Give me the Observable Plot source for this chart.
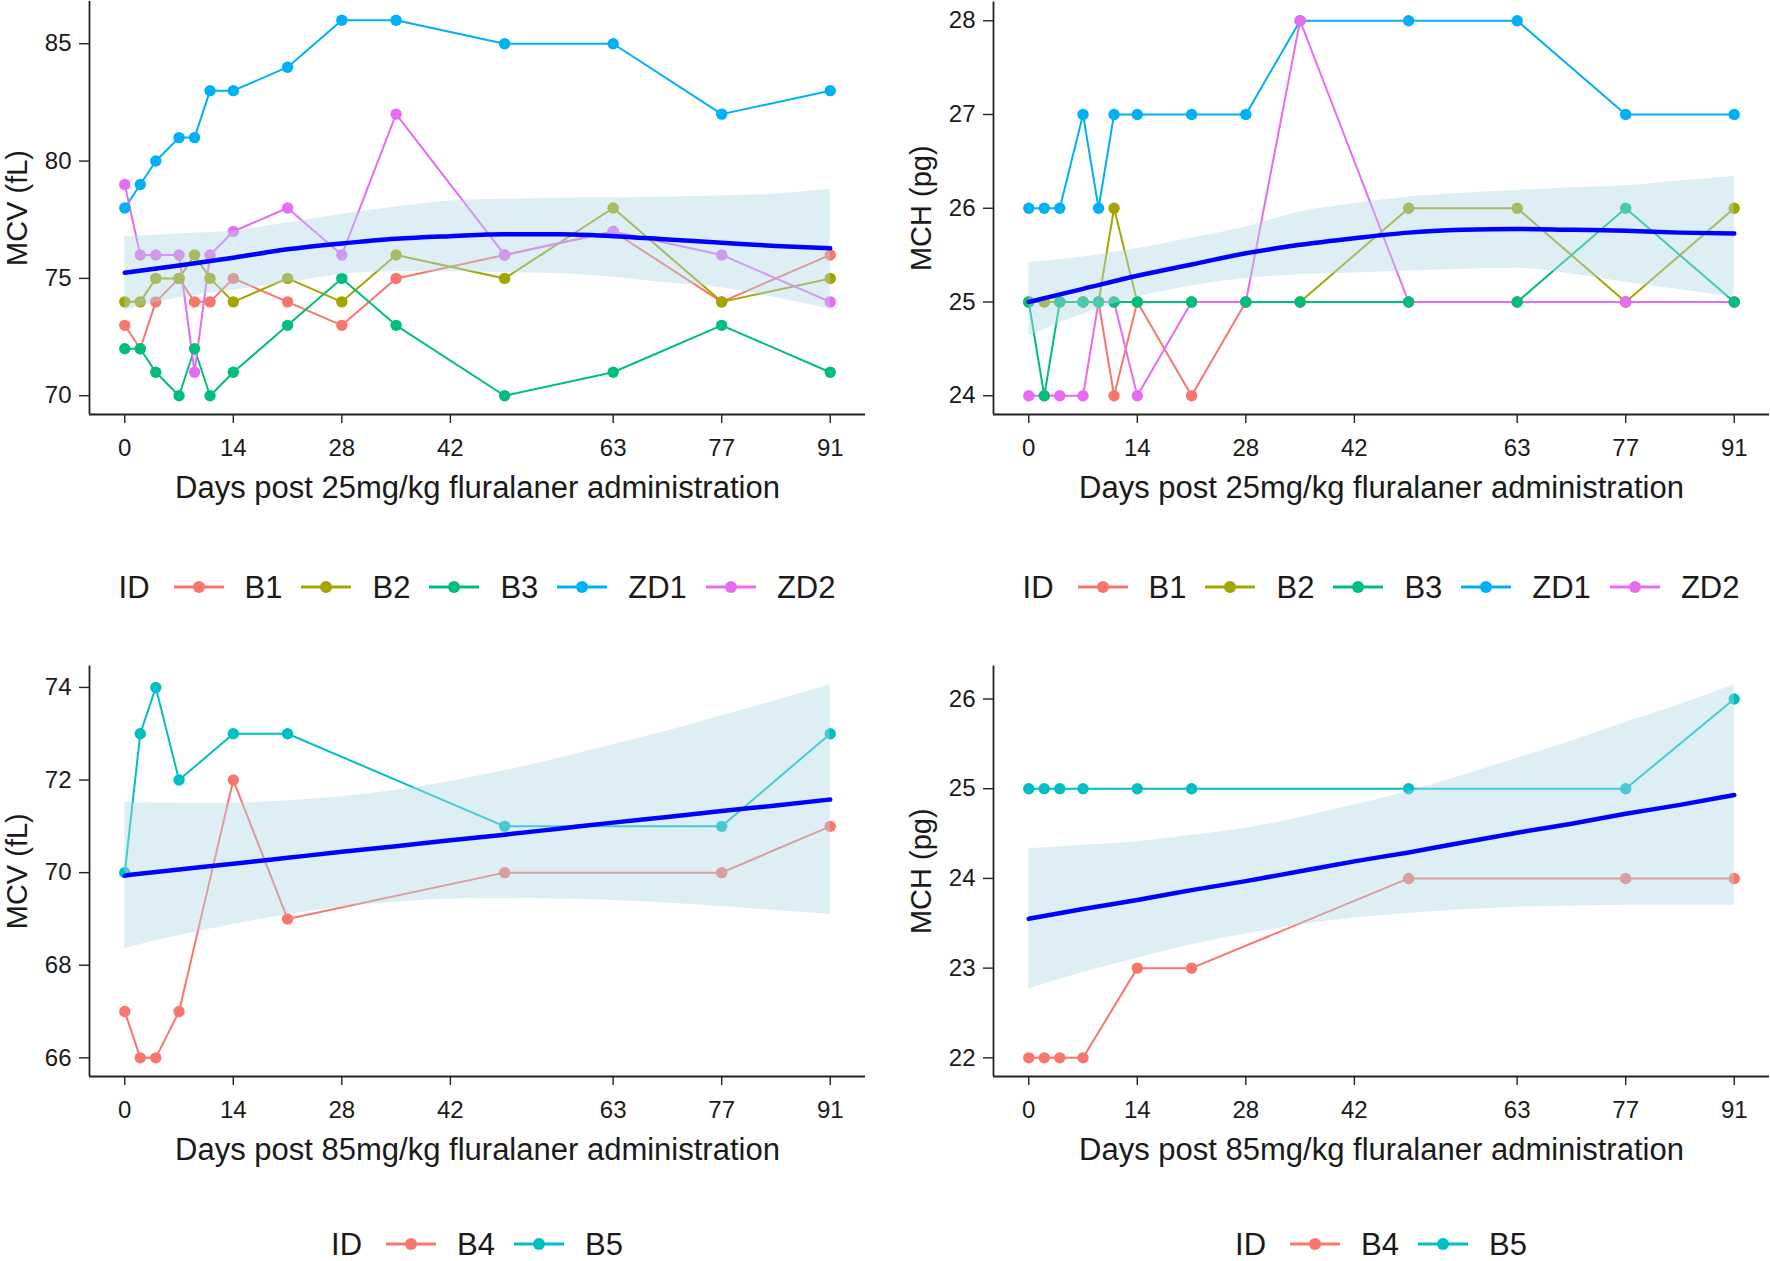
<!DOCTYPE html>
<html><head><meta charset="utf-8">
<script src="https://cdn.jsdelivr.net/npm/d3@7"></script>
<script src="https://cdn.jsdelivr.net/npm/@observablehq/plot@0.6"></script>
<style>
body{margin:0;background:#fff;}
#root{position:relative;width:1770px;height:1261px;overflow:hidden;font-family:"Liberation Sans",Arial,sans-serif;background:#fff;}
.panel{position:absolute;}
.legend{position:absolute;display:flex;align-items:center;justify-content:center;font-size:31px;line-height:1;color:#1a1a1a;white-space:nowrap;height:32px;}
.legend .ttl{margin-right:24px;}
.legend .lab{margin-left:21px;margin-right:19px;}
.legend .lab:last-child{margin-right:0;}
</style></head><body><div id="root"></div>
<script>
// ---------- data: 25 mg/kg group ----------
const days25 = [0, 2, 4, 7, 9, 11, 14, 21, 28, 35, 49, 63, 77, 91];
const ids25 = ["B1", "B2", "B3", "ZD1", "ZD2"];
const colors25 = ["#F8766D", "#A3A500", "#00BF7D", "#00B0F6", "#E76BF3"];
const dotOrder25 = ["B1", "B2", "ZD1", "ZD2", "B3"];

const mcv25_B1  = [73, 72, 74, 75, 74, 74, 75, 74, 73, 75, 76, 77, 74, 76];
const mcv25_B2  = [74, 74, 75, 75, 76, 75, 74, 75, 74, 76, 75, 78, 74, 75];
const mcv25_B3  = [72, 72, 71, 70, 72, 70, 71, 73, 75, 73, 70, 71, 73, 71];
const mcv25_ZD1 = [78, 79, 80, 81, 81, 83, 83, 84, 86, 86, 85, 85, 82, 83];
const mcv25_ZD2 = [79, 76, 76, 76, 71, 76, 77, 78, 76, 82, 76, 77, 76, 74];

const mch25_B1  = [25, 25, 25, 25, 25, 24, 25, 24, 25, 25, 25, 25, 25, 25];
const mch25_B2  = [25, 25, 25, 25, 25, 26, 25, 25, 25, 25, 26, 26, 25, 26];
const mch25_B3  = [25, 24, 25, 25, 25, 25, 25, 25, 25, 25, 25, 25, 26, 25];
const mch25_ZD1 = [26, 26, 26, 27, 26, 27, 27, 27, 27, 28, 28, 28, 27, 27];
const mch25_ZD2 = [24, 24, 24, 24, 25, 25, 24, 25, 25, 28, 25, 25, 25, 25];

// ---------- data: 85 mg/kg group ----------
const days85 = [0, 2, 4, 7, 14, 21, 49, 77, 91];
const ids85 = ["B4", "B5"];
const colors85 = ["#F8766D", "#00BFC4"];
const mcv85_B4 = [67, 66, 66, 67, 72, 69, 70, 70, 71];
const mcv85_B5 = [70, 73, 74, 72, 73, 73, 71, 71, 73];
const mch85_B4 = [22, 22, 22, 22, 23, 23, 24, 24, 24];
const mch85_B5 = [25, 25, 25, 25, 25, 25, 25, 25, 26];

// ---------- smoothed trend ----------
const fitDays = [0, 7, 14, 21, 28, 35, 42, 49, 56, 63, 70, 77, 84, 91];
const mcv25Fit = [75.24, 75.55, 75.88, 76.24, 76.49, 76.69, 76.80, 76.88, 76.88, 76.80, 76.66, 76.52, 76.38, 76.28];
const mcv25Hi  = [76.77, 76.90, 77.02, 77.37, 77.73, 78.04, 78.30, 78.37, 78.42, 78.44, 78.47, 78.51, 78.60, 78.80];
const mcv25Lo  = [73.63, 74.17, 74.49, 74.81, 75.17, 75.28, 75.28, 75.24, 75.20, 75.05, 74.81, 74.60, 74.17, 73.68];
const mch25Fit = [25.00, 25.14, 25.28, 25.40, 25.52, 25.61, 25.68, 25.74, 25.77, 25.78, 25.77, 25.76, 25.74, 25.73];
const mch25Hi  = [25.42, 25.48, 25.57, 25.68, 25.80, 25.96, 26.05, 26.12, 26.16, 26.19, 26.22, 26.24, 26.29, 26.34];
const mch25Lo  = [24.64, 24.87, 25.05, 25.17, 25.25, 25.29, 25.31, 25.33, 25.35, 25.36, 25.30, 25.21, 25.13, 25.05];
const mcv85Fit = [69.94, 70.07, 70.19, 70.32, 70.45, 70.57, 70.70, 70.82, 70.95, 71.08, 71.20, 71.33, 71.45, 71.58];
const mcv85Hi  = [71.52, 71.50, 71.50, 71.55, 71.64, 71.78, 71.97, 72.20, 72.47, 72.76, 73.06, 73.39, 73.72, 74.06];
const mcv85Lo  = [68.36, 68.64, 68.88, 69.09, 69.26, 69.36, 69.43, 69.44, 69.43, 69.40, 69.34, 69.27, 69.18, 69.10];
const mch85Fit = [23.55, 23.66, 23.76, 23.87, 23.97, 24.08, 24.19, 24.29, 24.40, 24.51, 24.61, 24.72, 24.82, 24.93];
const mch85Hi  = [24.33, 24.37, 24.41, 24.48, 24.56, 24.68, 24.82, 24.97, 25.15, 25.34, 25.53, 25.74, 25.94, 26.16];
const mch85Lo  = [22.77, 22.95, 23.11, 23.26, 23.38, 23.48, 23.56, 23.61, 23.65, 23.68, 23.69, 23.70, 23.70, 23.70];

// ---------- ticks & labels ----------
const xTicks = [0, 14, 28, 42, 63, 77, 91];
const yTicksMcv25 = [70, 75, 80, 85];
const yTicksMch25 = [24, 25, 26, 27, 28];
const yTicksMcv85 = [66, 68, 70, 72, 74];
const yTicksMch85 = [22, 23, 24, 25, 26];
const xTitle25 = "Days post 25mg/kg fluralaner administration";
const xTitle85 = "Days post 85mg/kg fluralaner administration";
const yTitleMcv = "MCV (fL)";
const yTitleMch = "MCH (pg)";
const legendTitle = "ID";

const root = document.getElementById("root");
const FONT = "'Liberation Sans', Arial, sans-serif";
const INK = "#1a1a1a";

function makePanel(o) {
  const rows = [];
  o.ids.forEach((id, k) => o.days.forEach((d, i) => rows.push({day: d, value: o.series[k][i], id})));
  const dotRows = [];
  o.dotOrder.forEach(id => rows.filter(r => r.id === id).forEach(r => dotRows.push(r)));
  const band = fitDays.map((d, i) => ({day: d, fit: o.fit[i], lo: o.lo[i], hi: o.hi[i]}));
  const yMin = d3.min([...rows.map(r => r.value), ...o.lo]);
  const yMax = d3.max([...rows.map(r => r.value), ...o.hi]);
  const yPad = (yMax - yMin) * 0.05;
  const xMin = d3.min(o.days), xMax = d3.max(o.days), xPad = (xMax - xMin) * 0.05;
  const marginBottom = 100;
  const height = o.plotBottom + marginBottom;
  const chart = Plot.plot({
    width: 885, height,
    marginLeft: o.marginLeft, marginRight: o.marginRight, marginTop: o.marginTop, marginBottom,
    x: {domain: [xMin - xPad, xMax + xPad]},
    y: {domain: [yMin - yPad, yMax + yPad]},
    color: {domain: o.ids, range: o.colors},
    style: {fontFamily: FONT, background: "white", color: INK, overflow: "visible"},
    marks: [
      Plot.line(rows, {x: "day", y: "value", z: "id", stroke: "id", strokeWidth: 2}),
      Plot.dot(dotRows, {x: "day", y: "value", fill: "id", r: 5.7}),
      Plot.areaY(band, {x: "day", y1: "lo", y2: "hi", fill: "#ADD8E6", fillOpacity: 0.42, curve: "monotone-x"}),
      Plot.line(band, {x: "day", y: "fit", stroke: "#0000FF", strokeWidth: 4.5, curve: "monotone-x"}),
      Plot.ruleX([xMin - xPad], {stroke: "#222", strokeWidth: 1.8}),
      Plot.ruleY([yMin - yPad], {stroke: "#222", strokeWidth: 1.8}),
      Plot.axisX({ticks: xTicks, tickFormat: d => String(d), tickSize: 9, tickPadding: 15, fontSize: 24, label: null, stroke: "#222", strokeWidth: 1.4}),
      Plot.axisY({ticks: o.yTicks, tickFormat: d => String(d), tickSize: 10, tickPadding: 8, fontSize: 24, label: null, stroke: "#222", strokeWidth: 1.4}),
      Plot.text([o.xTitle], {text: d => d, frameAnchor: "bottom", lineAnchor: "middle", textAnchor: "middle", dy: 74, fontSize: 31, fill: INK}),
      Plot.text([o.yTitle], {text: d => d, frameAnchor: "left", lineAnchor: "middle", textAnchor: "middle", rotate: -90, dx: -72, fontSize: 29, fill: INK})
    ]
  });
  const div = document.createElement("div");
  div.className = "panel";
  div.style.left = o.left + "px";
  div.style.top = o.top + "px";
  div.appendChild(chart);
  root.appendChild(div);

  // legend (HTML below the chart)
  const lg = document.createElement("div");
  lg.className = "legend";
  lg.style.left = (o.left + o.marginLeft) + "px";
  lg.style.width = (885 - o.marginLeft - o.marginRight) + "px";
  lg.style.top = (o.legendCenter - 16) + "px";
  const t = document.createElement("span");
  t.className = "ttl"; t.textContent = legendTitle;
  lg.appendChild(t);
  o.ids.forEach((id, k) => {
    const ns = "http://www.w3.org/2000/svg";
    const s = document.createElementNS(ns, "svg");
    s.setAttribute("width", 50); s.setAttribute("height", 20);
    const ln = document.createElementNS(ns, "line");
    ln.setAttribute("x1", 0); ln.setAttribute("x2", 50); ln.setAttribute("y1", 10); ln.setAttribute("y2", 10);
    ln.setAttribute("stroke", o.colors[k]); ln.setAttribute("stroke-width", 3);
    const c = document.createElementNS(ns, "circle");
    c.setAttribute("cx", 25); c.setAttribute("cy", 10); c.setAttribute("r", 6);
    c.setAttribute("fill", o.colors[k]);
    s.appendChild(ln); s.appendChild(c);
    lg.appendChild(s);
    const l = document.createElement("span");
    l.className = "lab"; l.textContent = id;
    lg.appendChild(l);
  });
  root.appendChild(lg);
}

makePanel({left: 0, top: 0, marginLeft: 89, marginRight: 20, marginTop: 1, plotBottom: 414,
  days: days25, ids: ids25, colors: colors25, dotOrder: dotOrder25,
  series: [mcv25_B1, mcv25_B2, mcv25_B3, mcv25_ZD1, mcv25_ZD2],
  fit: mcv25Fit, lo: mcv25Lo, hi: mcv25Hi, yTicks: yTicksMcv25,
  xTitle: xTitle25, yTitle: yTitleMcv, legendCenter: 587});

makePanel({left: 885, top: 0, marginLeft: 108, marginRight: 1, marginTop: 1.5, plotBottom: 414,
  days: days25, ids: ids25, colors: colors25, dotOrder: dotOrder25,
  series: [mch25_B1, mch25_B2, mch25_B3, mch25_ZD1, mch25_ZD2],
  fit: mch25Fit, lo: mch25Lo, hi: mch25Hi, yTicks: yTicksMch25,
  xTitle: xTitle25, yTitle: yTitleMch, legendCenter: 587});

makePanel({left: 0, top: 660, marginLeft: 89, marginRight: 20, marginTop: 5.5, plotBottom: 416,
  days: days85, ids: ids85, colors: colors85, dotOrder: ids85,
  series: [mcv85_B4, mcv85_B5],
  fit: mcv85Fit, lo: mcv85Lo, hi: mcv85Hi, yTicks: yTicksMcv85,
  xTitle: xTitle85, yTitle: yTitleMcv, legendCenter: 1244});

makePanel({left: 885, top: 660, marginLeft: 108, marginRight: 1, marginTop: 5.5, plotBottom: 416,
  days: days85, ids: ids85, colors: colors85, dotOrder: ids85,
  series: [mch85_B4, mch85_B5],
  fit: mch85Fit, lo: mch85Lo, hi: mch85Hi, yTicks: yTicksMch85,
  xTitle: xTitle85, yTitle: yTitleMch, legendCenter: 1244});
</script></body></html>
